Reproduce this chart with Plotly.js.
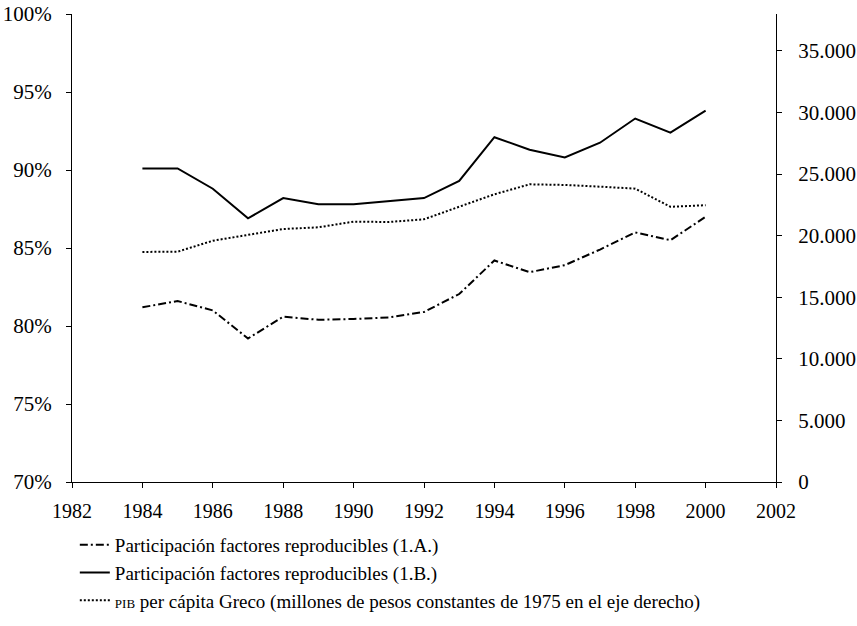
<!DOCTYPE html>
<html>
<head>
<meta charset="utf-8">
<script src="https://cdn.plot.ly/plotly-3.0.1.min.js"></script>
<style>html,body{margin:0;padding:0;background:#fff;}#chart{width:857px;height:626px;}</style>
</head>
<body>
<div id="chart"></div>
<script>
const years = [1984,1985,1986,1987,1988,1989,1990,1991,1992,1993,1994,1995,1996,1997,1998,1999,2000];
const partA = [81.2,81.6,81.0,79.2,80.6,80.4,80.45,80.55,80.9,82.05,84.2,83.45,83.9,84.9,86.0,85.5,87.0];
const partB = [90.1,90.1,88.8,86.9,88.2,87.8,87.8,88.0,88.2,89.3,92.1,91.3,90.8,91.75,93.3,92.4,93.8];
const pibGreco = [18680,18700,19590,20060,20540,20680,21140,21110,21330,22350,23360,24170,24120,23980,23820,22350,22470];

const nameA = 'Participación factores reproducibles (1.A.)';
const nameB = 'Participación factores reproducibles (1.B.)';
const nameP = '<span style="font-size:13px">PIB</span> per cápita Greco (millones de pesos constantes de 1975 en el eje derecho)';

const leftTicks = [70,75,80,85,90,95,100];
const rightTicks = [0,5000,10000,15000,20000,25000,30000,35000];
const xTicks = [1982,1984,1986,1988,1990,1992,1994,1996,1998,2000,2002];

const font = "'Liberation Serif', 'Times New Roman', Times, serif";

const traces = [
  {x: years, y: partA, name: nameA, type: 'scatter', mode: 'lines', yaxis: 'y',
   line: {color: '#000', width: 2, dash: '8px,3px,2px,3px'}},
  {x: years, y: partB, name: nameB, type: 'scatter', mode: 'lines', yaxis: 'y',
   line: {color: '#000', width: 2}},
  {x: years, y: pibGreco, name: nameP, type: 'scatter', mode: 'lines', yaxis: 'y2',
   line: {color: '#000', width: 2, dash: '2px,2px'}}
];

const layout = {
  width: 857, height: 626,
  margin: {l: 72, r: 81, t: 14, b: 144, autoexpand: false},
  paper_bgcolor: '#fff', plot_bgcolor: '#fff',
  separators: ',.',
  font: {family: font, size: 19, color: '#000'},
  showlegend: true,
  legend: {x: 0.004, y: -0.094, xanchor: 'left', yanchor: 'top', orientation: 'v',
           font: {family: font, size: 19, color: '#000'}, tracegroupgap: 0, itemwidth: 30,
           bgcolor: 'rgba(0,0,0,0)'},
  xaxis: {range: [1982, 2002], tickvals: xTicks, ticktext: xTicks.map(String),
          showgrid: false, zeroline: false, showline: true, linecolor: '#000', linewidth: 1,
          ticks: 'outside', ticklen: 5, tickcolor: '#000', ticklabelstandoff: 6,
          tickfont: {family: font, size: 20, color: '#000'}},
  yaxis: {range: [70, 100], tickvals: leftTicks, ticktext: leftTicks.map(v => v + '%'),
          showgrid: false, zeroline: false, showline: true, linecolor: '#000', linewidth: 1,
          ticks: 'outside', ticklen: 5, tickcolor: '#000', ticklabelstandoff: 10,
          tickfont: {family: font, size: 21, color: '#000'}},
  yaxis2: {range: [0, 38000], overlaying: 'y', side: 'right', tickvals: rightTicks,
          tickformat: ',d',
          showgrid: false, zeroline: false, showline: true, linecolor: '#000', linewidth: 1,
          ticks: 'outside', ticklen: 5, tickcolor: '#000', ticklabelstandoff: 12,
          tickfont: {family: font, size: 21, color: '#000'}}
};

Plotly.newPlot('chart', traces, layout, {staticPlot: true, displayModeBar: false});
</script>
</body>
</html>
